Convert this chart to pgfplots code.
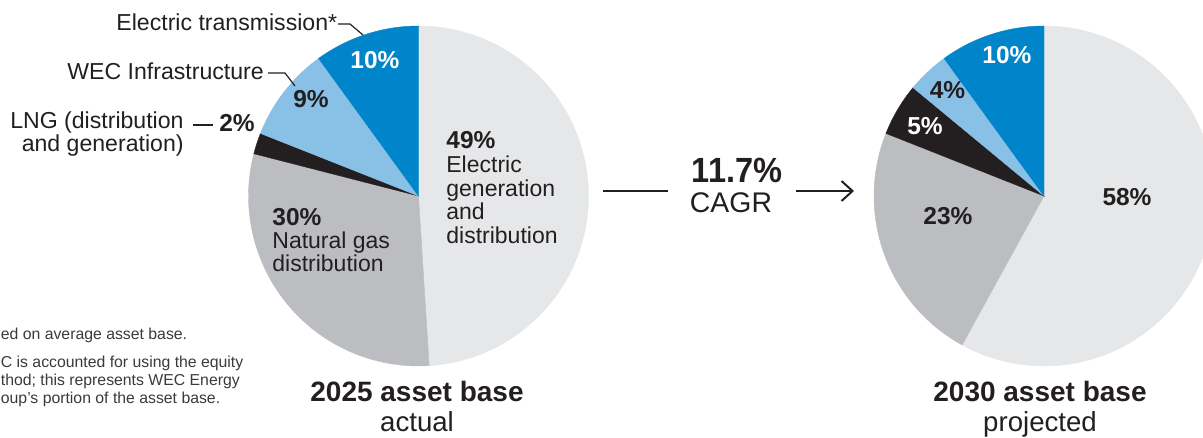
\documentclass[border=0pt]{standalone}
\usepackage{pgfplots}
\pgfplotsset{compat=1.18}
\usepackage{fontspec}
\setmainfont{Liberation Sans}
\usetikzlibrary{arrows.meta}
\definecolor{cgen}{HTML}{E6E7E8}
\definecolor{cgas}{HTML}{BCBDC0}
\definecolor{clng}{HTML}{231F20}
\definecolor{cwec}{HTML}{88C0E6}
\definecolor{ctr}{HTML}{0085CA}
\definecolor{ctext}{HTML}{231F20}
\definecolor{cnote}{HTML}{3A3A3A}
\newcommand{\pct}{\fontsize{12.25}{13}\bfseries\selectfont}
\newcommand{\desc}{\fontsize{11.5}{12}\selectfont}
\newcommand{\call}{\fontsize{11.55}{12}\selectfont}
\newcommand{\note}{\fontsize{7.9}{9}\selectfont}
\begin{document}
\begin{tikzpicture}
\useasboundingbox (0,0) rectangle (601.5pt,219pt);
\begin{axis}[at={(0pt,0pt)}, anchor=south west, scale only axis,
  width=601.5pt, height=219pt, xmin=0, xmax=1203, ymin=0, ymax=438,
  hide axis, clip=true]
% ---- 2025 pie: 49, 30, 2, 9, 10 (clockwise from top)
\filldraw[fill=cgen, draw=cgen, line width=0.2pt] (axis cs:418.5,242) -- ++(90:85pt) arc[start angle=90, end angle={90-3.6*49}, radius=85pt] -- cycle;
\filldraw[fill=cgas, draw=cgas, line width=0.2pt] (axis cs:418.5,242) -- ++({90-3.6*49}:85pt) arc[start angle={90-3.6*49}, end angle={90-3.6*(49+30)}, radius=85pt] -- cycle;
\filldraw[fill=clng, draw=clng, line width=0.2pt] (axis cs:418.5,242) -- ++({90-3.6*79}:85pt) arc[start angle={90-3.6*79}, end angle={90-3.6*(79+2)}, radius=85pt] -- cycle;
\filldraw[fill=cwec, draw=cwec, line width=0.2pt] (axis cs:418.5,242) -- ++({90-3.6*81}:85pt) arc[start angle={90-3.6*81}, end angle={90-3.6*(81+9)}, radius=85pt] -- cycle;
\filldraw[fill=ctr, draw=ctr, line width=0.2pt] (axis cs:418.5,242) -- ++({90-3.6*90}:85pt) arc[start angle={90-3.6*90}, end angle={90-3.6*(90+10)}, radius=85pt] -- cycle;
% ---- 2030 pie: 58, 23, 5, 4, 10
\filldraw[fill=cgen, draw=cgen, line width=0.2pt] (axis cs:1044,242) -- ++(90:85pt) arc[start angle=90, end angle={90-3.6*58}, radius=85pt] -- cycle;
\filldraw[fill=cgas, draw=cgas, line width=0.2pt] (axis cs:1044,242) -- ++({90-3.6*58}:85pt) arc[start angle={90-3.6*58}, end angle={90-3.6*(58+23)}, radius=85pt] -- cycle;
\filldraw[fill=clng, draw=clng, line width=0.2pt] (axis cs:1044,242) -- ++({90-3.6*81}:85pt) arc[start angle={90-3.6*81}, end angle={90-3.6*(81+5)}, radius=85pt] -- cycle;
\filldraw[fill=cwec, draw=cwec, line width=0.2pt] (axis cs:1044,242) -- ++({90-3.6*86}:85pt) arc[start angle={90-3.6*86}, end angle={90-3.6*(86+4)}, radius=85pt] -- cycle;
\filldraw[fill=ctr, draw=ctr, line width=0.2pt] (axis cs:1044,242) -- ++({90-3.6*90}:85pt) arc[start angle={90-3.6*90}, end angle={90-3.6*(90+10)}, radius=85pt] -- cycle;
% ---- left pie labels
\node[anchor=base west, inner sep=0, text=ctext, font=\pct] at (axis cs:446,289) {49\%};
\node[anchor=base west, inner sep=0, text=ctext, font=\desc] at (axis cs:446,265) {Electric};
\node[anchor=base west, inner sep=0, text=ctext, font=\desc] at (axis cs:446,241.5) {generation};
\node[anchor=base west, inner sep=0, text=ctext, font=\desc] at (axis cs:446,218) {and};
\node[anchor=base west, inner sep=0, text=ctext, font=\desc] at (axis cs:446,194.5) {distribution};
\node[anchor=base west, inner sep=0, text=ctext, font=\pct] at (axis cs:272,212) {30\%};
\node[anchor=base west, inner sep=0, text=ctext, font=\desc] at (axis cs:272,189) {Natural gas};
\node[anchor=base west, inner sep=0, text=ctext, font=\desc] at (axis cs:272,166) {distribution};
\node[anchor=base, inner sep=0, text=white, font=\pct] at (axis cs:375,369) {10\%};
\node[anchor=base, inner sep=0, text=ctext, font=\pct] at (axis cs:311,330) {9\%};
\node[anchor=base, inner sep=0, text=ctext, font=\pct] at (axis cs:237,306) {2\%};
% callouts
\node[anchor=base east, inner sep=0, text=ctext, font=\call] at (axis cs:184,309) {LNG (distribution};
\node[anchor=base east, inner sep=0, text=ctext, font=\call] at (axis cs:184,286) {and generation)};
\draw[ctext, line width=0.6pt] (axis cs:193,313) -- (axis cs:213,313);
\node[anchor=base west, inner sep=0, text=ctext, font=\call] at (axis cs:67,358) {WEC Infrastructure};
\draw[ctext, line width=0.6pt] (axis cs:268,365) -- (axis cs:285,365) -- (axis cs:295,352);
\node[anchor=base west, inner sep=0, text=ctext, font=\call] at (axis cs:116,407) {Electric transmission*};
\draw[ctext, line width=0.6pt] (axis cs:338,414) -- (axis cs:350,414) -- (axis cs:363,403);
% ---- right pie labels
\node[anchor=base, inner sep=0, text=white, font=\pct] at (axis cs:1007,374) {10\%};
\node[anchor=base, inner sep=0, text=ctext, font=\pct] at (axis cs:947.5,339) {4\%};
\node[anchor=base, inner sep=0, text=white, font=\pct] at (axis cs:925,303) {5\%};
\node[anchor=base, inner sep=0, text=ctext, font=\pct] at (axis cs:948,213) {23\%};
\node[anchor=base, inner sep=0, text=ctext, font=\pct] at (axis cs:1127,232) {58\%};
% ---- CAGR
\node[anchor=base, inner sep=0, text=ctext, font=\fontsize{17.5}{18}\bfseries\selectfont, xscale=0.93] at (axis cs:737,255) {11.7\%};
\node[anchor=base, inner sep=0, text=ctext, font=\fontsize{14.2}{15}\selectfont] at (axis cs:731,225) {CAGR};
\draw[ctext, line width=1pt] (axis cs:603,247) -- (axis cs:668,247);
\draw[ctext, line width=1pt, -{Straight Barb[length=5.5pt, width=10pt, line width=1pt]}] (axis cs:796,247) -- (axis cs:854,247);
% ---- titles
\node[anchor=base, inner sep=0, text=ctext, font=\fontsize{14}{15}\bfseries\selectfont] at (axis cs:417,36) {2025 asset base};
\node[anchor=base, inner sep=0, text=ctext, font=\fontsize{13.8}{15}\selectfont] at (axis cs:417,6) {actual};
\node[anchor=base, inner sep=0, text=ctext, font=\fontsize{14}{15}\bfseries\selectfont] at (axis cs:1040,36) {2030 asset base};
\node[anchor=base, inner sep=0, text=ctext, font=\fontsize{13.8}{15}\selectfont] at (axis cs:1040,6) {projected};
% ---- footnotes (fragments visible at the left edge)
\node[anchor=base west, inner sep=0, text=cnote, font=\note] at (axis cs:0.5,98) {ed on average asset base.};
\node[anchor=base west, inner sep=0, text=cnote, font=\note] at (axis cs:0.5,70) {C is accounted for using the equity};
\node[anchor=base west, inner sep=0, text=cnote, font=\note] at (axis cs:0.5,52) {thod; this represents WEC Energy};
\node[anchor=base west, inner sep=0, text=cnote, font=\note] at (axis cs:0.5,34) {oup’s portion of the asset base.};
\end{axis}
\end{tikzpicture}
\end{document}
